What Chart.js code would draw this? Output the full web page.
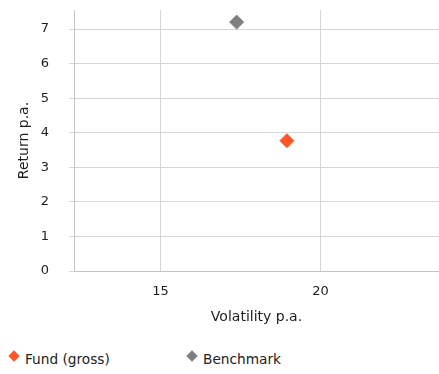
<!DOCTYPE html>
<html>
<head>
<meta charset="utf-8">
<script src="https://cdn.jsdelivr.net/npm/chart.js@4/dist/chart.umd.min.js"></script>
<style>
  body { margin: 0; background: #fff; font-family: "DejaVu Sans", sans-serif; }
  .chart-container { position: relative; width: 439px; height: 335px; }
  .legend { position: relative; width: 439px; height: 39px; font-size: 13.7px; color: #222; }
  .legend-item { position: absolute; top: 16px; line-height: 16px; }
  .legend-item .mark { position: absolute; left: -15px; top: 1px; width: 8px; height: 8px; transform: rotate(45deg); }
</style>
</head>
<body>
<div class="chart-container"><canvas class="chart"></canvas></div>
<div class="legend"></div>
<script>
// series: volatility (x) / return (y), one point each
var seriesNames = ['Fund (gross)', 'Benchmark'];
var seriesColors = ['#ff5529', '#808080'];
var volatility = [18.95, 17.38];
var returns = [3.77, 7.2];

// axis ticks
var xTicks = [15, 20];
var yTicks = [0, 1, 2, 3, 4, 5, 6, 7];

var gridColor = '#d6d6d6';
var axisColor = '#c4c4c4';
var textColor = '#1e1e1e';
var tickFont = { family: 'DejaVu Sans', size: 13 };
var titleFont = { family: 'DejaVu Sans', size: 14 };

var datasets = seriesNames.map(function (name, i) {
  return {
    label: name,
    data: [{ x: volatility[i], y: returns[i] }],
    pointStyle: 'rectRot',
    pointRadius: 7,
    pointBackgroundColor: seriesColors[i],
    pointBorderColor: seriesColors[i],
    borderColor: seriesColors[i],
    backgroundColor: seriesColors[i]
  };
});

var config = {
  type: 'scatter',
  data: { datasets: datasets },
  options: {
    responsive: true,
    maintainAspectRatio: false,
    animation: false,
    layout: { autoPadding: false, padding: { top: 10, right: 0, left: 0, bottom: 0 } },
    plugins: {
      legend: { display: false },
      tooltip: { enabled: false }
    },
    scales: {
      x: {
        type: 'linear',
        min: 12.3,
        max: 23.7,
        // fixed axis band so the plot sits where it does in the original
        afterFit: function (scale) {
          scale.height = 64;
          scale.paddingLeft = 0;
          scale.paddingRight = 0;
        },
        grid: { color: gridColor, drawTicks: false },
        border: { color: axisColor, width: 1 },
        ticks: {
          stepSize: xTicks[1] - xTicks[0],
          includeBounds: false,
          padding: 13,
          color: textColor,
          font: tickFont,
          callback: function (v) { return xTicks.indexOf(v) >= 0 ? String(v) : null; }
        },
        title: {
          display: true,
          text: 'Volatility p.a.',
          color: textColor,
          font: titleFont,
          padding: { top: 10, bottom: 9 }
        }
      },
      y: {
        type: 'linear',
        min: 0,
        max: 7.55,
        afterFit: function (scale) {
          scale.width = 74;
          scale.paddingTop = 0;
          scale.paddingBottom = 0;
        },
        grid: { color: gridColor, drawTicks: true, tickLength: 5 },
        border: { color: axisColor, width: 1 },
        ticks: {
          stepSize: 1,
          includeBounds: false,
          padding: 20,
          color: textColor,
          font: tickFont,
          callback: function (v) { return yTicks.indexOf(v) >= 0 ? String(v) : null; }
        },
        title: {
          display: true,
          text: 'Return p.a.',
          color: textColor,
          font: titleFont,
          padding: { top: 16, bottom: 8 }
        }
      }
    }
  }
};

var myChart = new Chart(document.querySelector('.chart'), config);

// legend below the chart
var legendLeft = [25, 203];
var legend = document.querySelector('.legend');
seriesNames.forEach(function (name, i) {
  var item = document.createElement('div');
  item.className = 'legend-item';
  item.style.left = legendLeft[i] + 'px';
  item.innerHTML = '<span class="mark" style="background:' + seriesColors[i] + '"></span>' + name;
  legend.appendChild(item);
});
</script>
</body>
</html>
